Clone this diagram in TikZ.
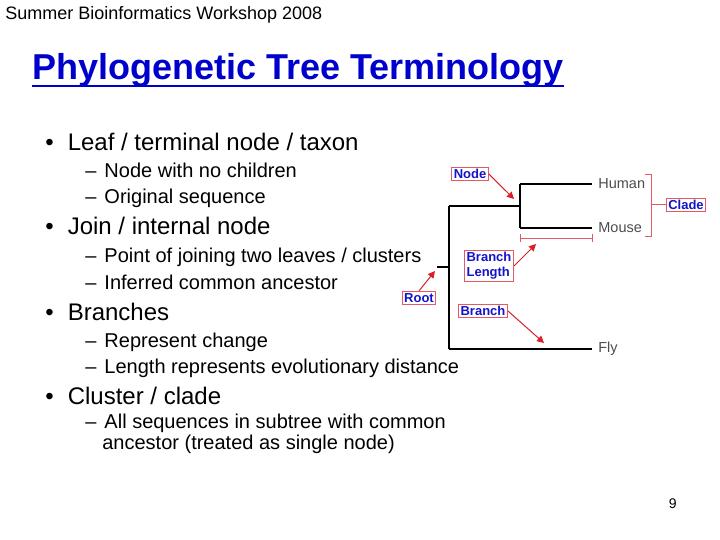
\documentclass[tikz,border=0pt]{standalone}
\usepackage{fontspec}
\setmainfont{Liberation Sans}
\usetikzlibrary{arrows.meta}
\definecolor{titleblue}{RGB}{0,0,204}
\definecolor{lblblue}{RGB}{20,20,200}
\definecolor{lblred}{RGB}{225,90,100}
\definecolor{arrred}{RGB}{220,30,40}
\tikzset{every picture/.style={line width=0.75pt}}
\tikzset{
  bul/.style={anchor=base west,inner sep=0pt,font=\fontsize{24}{28}\selectfont},
  sub/.style={anchor=base west,inner sep=0pt,font=\fontsize{20}{23}\selectfont,align=left},
  tip/.style={draw=lblred,line width=1.2pt,fill=white,text=lblblue,font=\bfseries\fontsize{13}{15}\selectfont,inner sep=2pt,align=left},
  leaf/.style={anchor=west,inner sep=0pt,text=black!70,font=\fontsize{14.5}{16}\selectfont},
  tree/.style={line width=2pt},
  pointer/.style={draw=arrred,line width=1pt,-{Triangle[width=7pt,length=7pt]}}
}
\begin{document}
\begin{tikzpicture}[x=1pt,y=1pt,yscale=-1,xscale=1]
\useasboundingbox (0,0) rectangle (720,540);

% header
\node [anchor=base west,inner sep=0pt,font=\fontsize{18}{20}\selectfont] (hdr) at (5,20) {Summer Bioinformatics Workshop 2008};
\node [anchor=base west,inner sep=0pt,text=titleblue,font=\bfseries\fontsize{36}{40}\selectfont] (title) at (32,80) {Phylogenetic Tree Terminology};
\draw [titleblue,line width=1.8pt] (title.south west) ++(0,-2) -- ([yshift=-2pt]title.south east);

% bullets
\node [bul] (b1) at (45,151) {\textbullet\hspace{14pt}Leaf / terminal node / taxon};
\node [sub] (s11) at (85,178) {–\hspace{8pt}Node with no children};
\node [sub] (s12) at (85,204) {–\hspace{8pt}Original sequence};
\node [bul] (b2) at (45,235) {\textbullet\hspace{14pt}Join / internal node};
\node [sub] (s21) at (85,262) {–\hspace{8pt}Point of joining two leaves / clusters};
\node [sub] (s22) at (85,289) {–\hspace{8pt}Inferred common ancestor};
\node [bul] (b3) at (45,320) {\textbullet\hspace{14pt}Branches};
\node [sub] (s31) at (85,347) {–\hspace{8pt}Represent change};
\node [sub] (s32) at (85,373) {–\hspace{8pt}Length represents evolutionary distance};
\node [bul] (b4) at (45,404) {\textbullet\hspace{14pt}Cluster / clade};
\node [sub,anchor=north west] (s41) at (85,414) {–\hspace{8pt}All sequences in subtree with common\\[-2pt]\hspace*{17pt}ancestor (treated as single node)};

% tree
\coordinate (root) at (437,267);
\coordinate (rj) at (449,267);
\coordinate (top) at (449,206);
\coordinate (bot) at (449,349);
\coordinate (nd) at (520,206);
\coordinate (ndh) at (520,184);
\coordinate (ndm) at (520,228);
\coordinate (eh) at (592,184);
\coordinate (em) at (592,228);
\coordinate (ef) at (592,349);
\node [leaf] (human) at (598,184) {Human};
\node [leaf] (mouse) at (598,228) {Mouse};
\node [leaf] (fly) at (598,349) {Fly};
\draw [tree] (root) -- (rj);
\draw [tree] (top) -- (bot);
\draw [tree] (top) -- (nd);
\draw [tree] (ndh) -- (ndm);
\draw [tree] (ndh) -- (eh);
\draw [tree] (ndm) -- (em);
\draw [tree] (bot) -- (ef);

% branch length bar
\draw [lblred,line width=1pt] (520,238) -- (592,238) (520,234) -- (520,242) (592,234) -- (592,242);

% clade bracket
\draw [lblred,line width=1pt] (645,175) -- (651,175) -- (651,236) -- (645,236);
\node [tip] (clade) at (686,205) {Clade};
\draw [lblred,line width=1pt] (651,205) -- (clade.west);

% labels
\node [tip] (node) at (470,174) {Node};
\node [tip] (blen) at (489,266) {Branch\\Length};
\node [tip] (rootlbl) at (419,298) {Root};
\node [tip] (branch) at (483,311) {Branch};
\draw [pointer] (node.east) -- (514,199);
\draw [pointer] (blen.east) -- (536,244);
\draw [pointer] (rootlbl.north) -- (435,271);
\draw [pointer] (branch.east) -- (544,343);

% page number
\node [anchor=base east,inner sep=0pt,font=\fontsize{14}{16}\selectfont] (pg) at (677,508) {9};
\end{tikzpicture}
\end{document}
